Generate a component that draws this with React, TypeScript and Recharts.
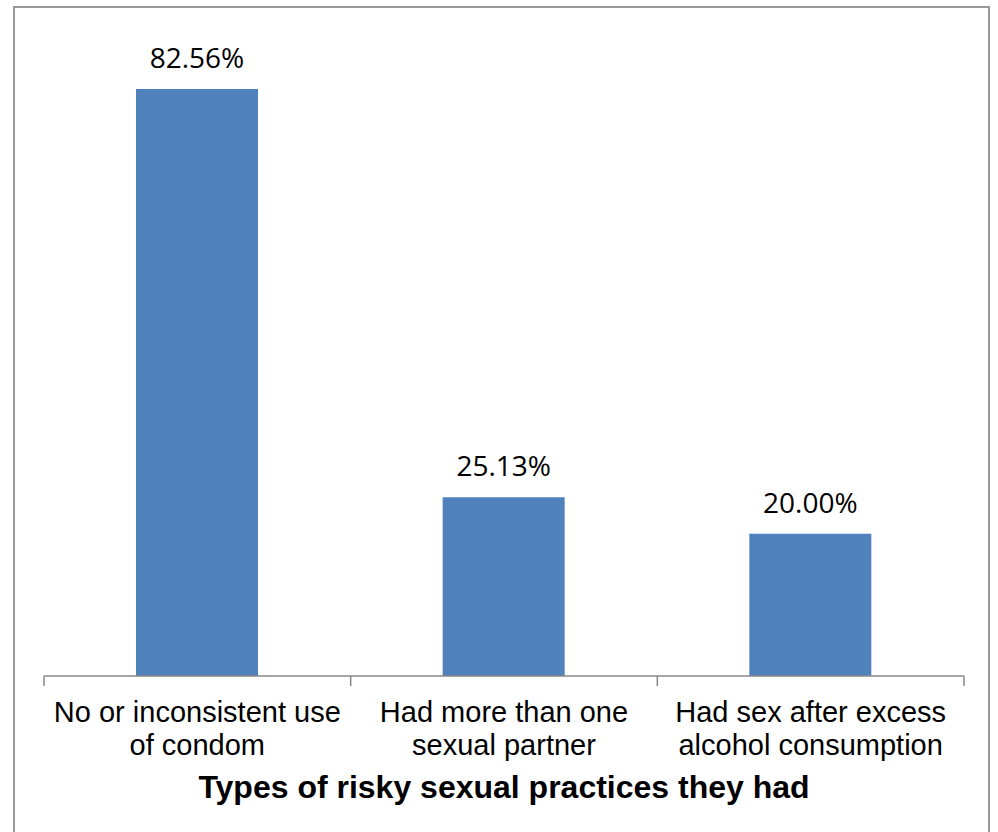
import React from 'react';
import { BarChart, Bar, XAxis, YAxis, LabelList } from 'recharts';

const categories = ['No or inconsistent use of condom', 'Had more than one sexual partner', 'Had sex after excess alcohol consumption'];
const tickLines: string[][] = [
  ['No or inconsistent use', 'of condom'],
  ['Had more than one', 'sexual partner'],
  ['Had sex after excess', 'alcohol consumption'],
];
const values = [82.56, 25.13, 20.0];
const axisTitle = 'Types of risky sexual practices they had';

const data = categories.map((c, i) => ({ name: c, value: values[i] }));

const CategoryTick = (props: any) => {
  const { x, y, payload, index } = props;
  const half = payload && payload.offset ? payload.offset : 153.3;
  const lines = tickLines[index] || [String(payload.value)];
  const isLast = index === categories.length - 1;
  return (
    <g>
      <line x1={x - half} x2={x - half} y1={y - 10} y2={y} stroke="#888" strokeWidth={1.5} />
      {isLast && <line x1={x + half} x2={x + half} y1={y - 10} y2={y} stroke="#888" strokeWidth={1.5} />}
      <text x={x} y={y} textAnchor="middle" fontFamily="'Liberation Sans', Arial, sans-serif" fontSize={29} fill="#000">
        {lines.map((l, i) => (
          <tspan key={i} x={x} y={y + 36 + i * 33}>{l}</tspan>
        ))}
      </text>
    </g>
  );
};

export default function App() {
  return (
    <div style={{ position: 'absolute', left: 0, top: 0, width: 998, height: 832, overflow: 'hidden', background: '#fff' }}>
      <div style={{ position: 'absolute', left: 13, top: 6, width: 977, height: 900, border: '2px solid #999', boxSizing: 'border-box' }} />
      <div style={{ position: 'absolute', left: 1, top: 0 }}>
        <BarChart width={998} height={832} data={data} margin={{ top: 36, right: 35, left: 43, bottom: 0 }}>
          <YAxis hide width={0} domain={[0, 90]} />
          <XAxis
            dataKey="name"
            height={156}
            tickSize={10}
            tickMargin={0}
            tickLine={false}
            axisLine={{ stroke: '#888', strokeWidth: 1.5 }}
            interval={0}
            tick={<CategoryTick />}
            label={{
              value: axisTitle,
              position: 'insideBottom',
              offset: 34,
              style: { fontFamily: "'Liberation Sans', Arial, sans-serif", fontSize: 32, fontWeight: 'bold', fill: '#000' },
            }}
          />
          <Bar dataKey="value" fill="#4F81BD" barSize={122} isAnimationActive={false}>
            <LabelList
              dataKey="value"
              position="top"
              offset={21}
              formatter={(v: any) => `${Number(v).toFixed(2)}%`}
              style={{ fontFamily: "'Open Sans', sans-serif", fontSize: 28, fill: '#000' }}
            />
          </Bar>
        </BarChart>
      </div>
    </div>
  );
}
